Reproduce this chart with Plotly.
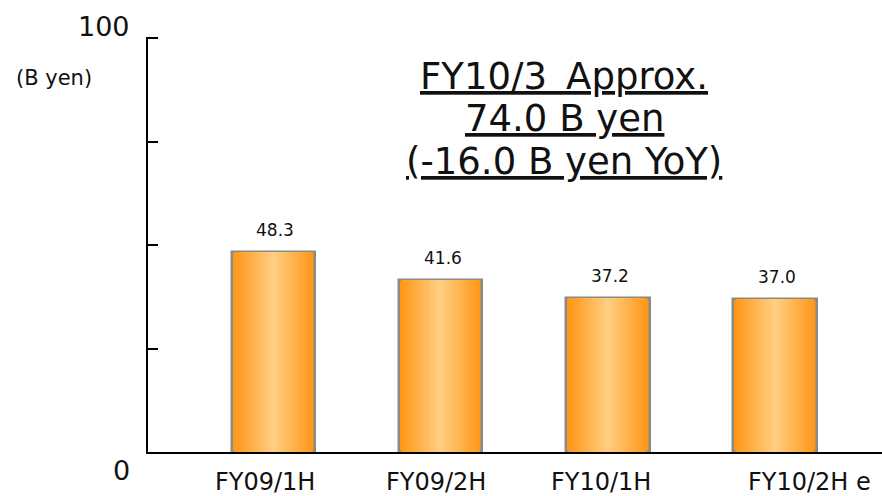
import plotly.graph_objects as go

categories = ["FY09/1H", "FY09/2H", "FY10/1H", "FY10/2H e"]
values = [48.3, 41.6, 37.2, 37.0]
value_labels = ["48.3", "41.6", "37.2", "37.0"]
y_tick_vals = [0, 25, 50, 75, 100]
title_lines = ["FY10/3&#8201; Approx.", "74.0 B yen", "(-16.0 B yen YoY)"]

FONT = "DejaVu Sans"
x = list(range(len(categories)))

fig = go.Figure()

# gradient bar: overlay narrowing bars with lighter colors toward the center
edge = (255, 150, 22)
mid = (255, 206, 128)
n = 18
full_w = 0.5
for i in range(n):
    t = i / (n - 1)
    c = tuple(int(edge[k] + (mid[k] - edge[k]) * t) for k in range(3))
    w = full_w * (1 - i / n)
    fig.add_trace(go.Bar(
        x=x, y=values, width=w,
        marker=dict(color="rgb(%d,%d,%d)" % c,
                    line=dict(color="#8a8a8a", width=2.5 if i == 0 else 0)),
        hoverinfo="skip", showlegend=False,
    ))

for xi, v, lab in zip(x, values, value_labels):
    fig.add_annotation(x=xi, y=v, text=lab, showarrow=False, yanchor="middle",
                       yshift=22, xshift=2, font=dict(family=FONT, size=17, color="#111"))

cat_shift = [-8, -5, -7, 35]
for xi, lab, s in zip(x, categories, cat_shift):
    fig.add_annotation(x=xi, y=0, text=lab, showarrow=False, yanchor="middle",
                       yshift=-30, xshift=s, font=dict(family=FONT, size=24, color="#111"))

title_y = [90.8, 80.5, 70.3]
for line, ty in zip(title_lines, title_y):
    fig.add_annotation(x=0.567, xref="paper", y=ty, yref="y",
                       text="<u>%s</u>" % line, showarrow=False, yanchor="middle",
                       font=dict(family=FONT, size=37, color="#111"))

fig.add_annotation(x=0, xref="paper", y=100, text="100", showarrow=False,
                   xanchor="right", yanchor="middle", yshift=12, xshift=-16,
                   font=dict(family=FONT, size=27, color="#111"))
fig.add_annotation(x=0, xref="paper", y=0, text="0", showarrow=False,
                   xanchor="right", yanchor="middle", yshift=-18, xshift=-16,
                   font=dict(family=FONT, size=27, color="#111"))
fig.add_annotation(x=0, xref="paper", y=90.3, text="(B yen)", showarrow=False,
                   xanchor="left", yanchor="middle", xshift=-134,
                   font=dict(family=FONT, size=21, color="#111"))

fig.update_layout(
    width=882, height=496,
    margin=dict(l=148, r=0, t=37, b=44),
    paper_bgcolor="white", plot_bgcolor="white",
    barmode="overlay", bargap=0,
    xaxis=dict(range=[-0.75, 3.64], showticklabels=False, showgrid=False,
               zeroline=False, showline=True, linecolor="black", linewidth=2,
               ticks=""),
    yaxis=dict(range=[0, 100.3], tickvals=y_tick_vals, showticklabels=False,
               showgrid=False, zeroline=False, showline=True, linecolor="black",
               linewidth=2, ticks="inside", ticklen=10, tickcolor="black", tickwidth=1.5),
)

fig.write_html("out.html", config={"displayModeBar": False},
               post_script="document.body.style.margin='0';")
